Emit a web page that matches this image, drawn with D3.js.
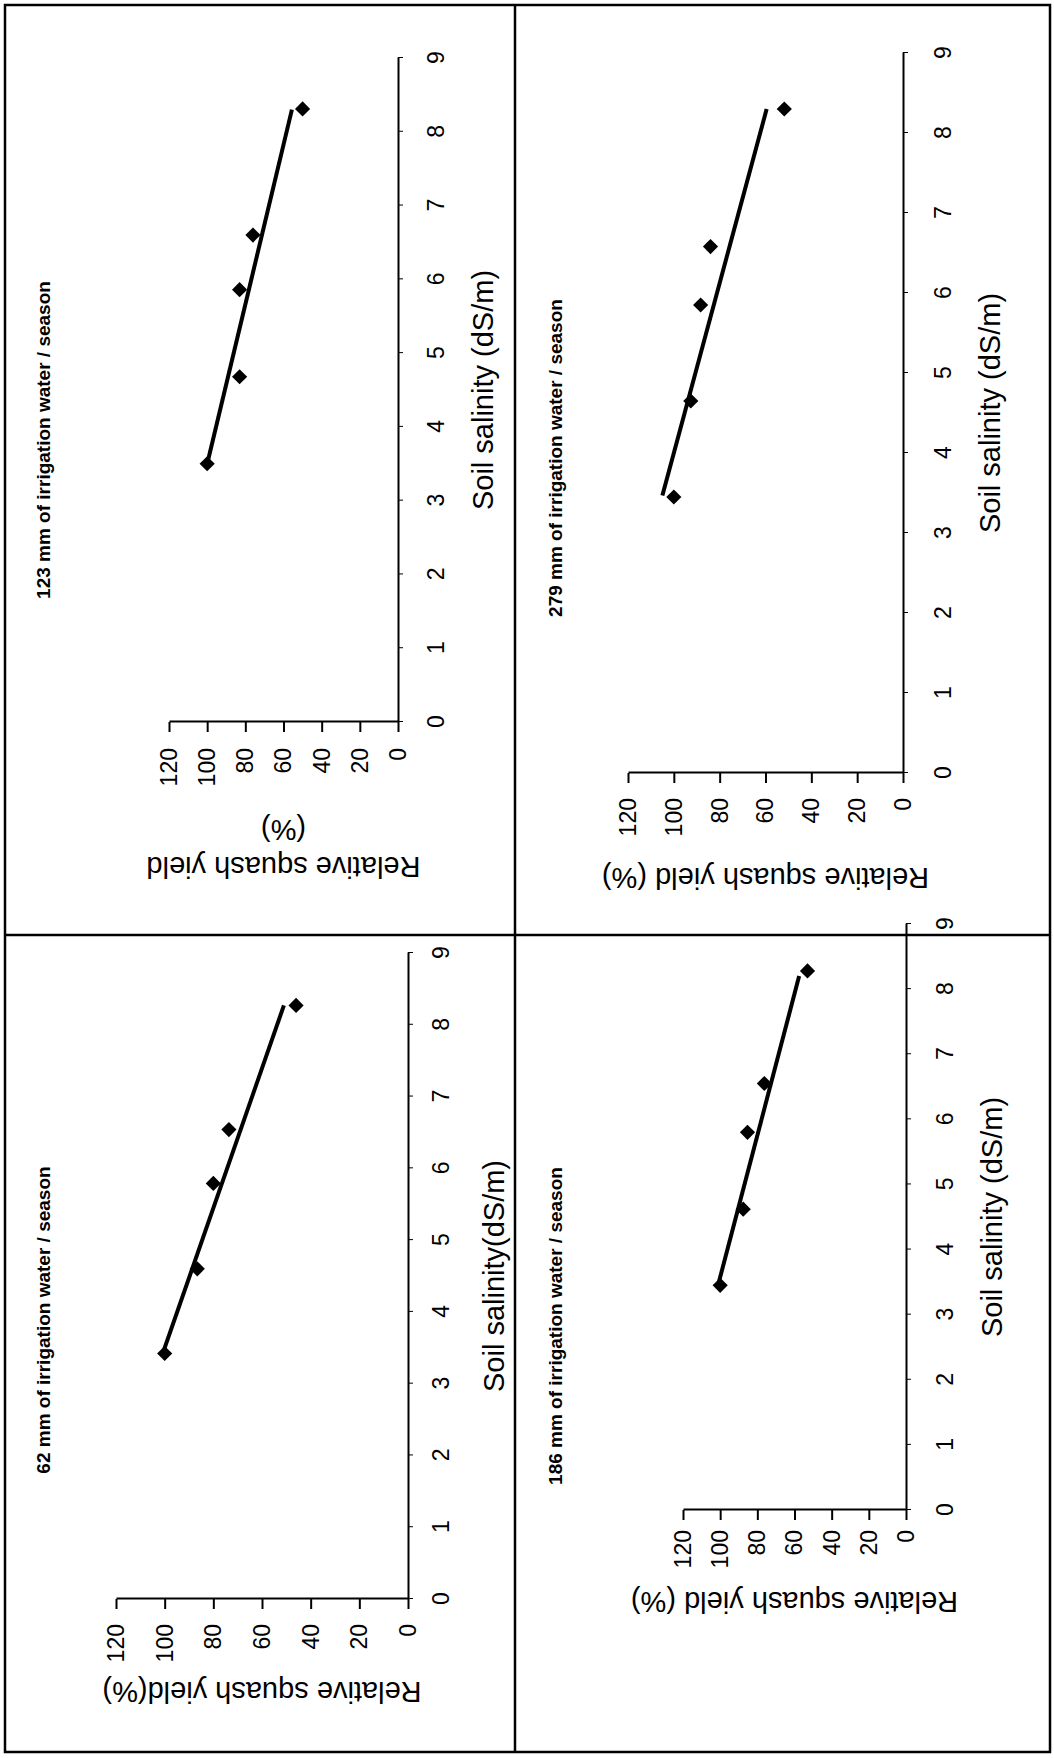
<!DOCTYPE html>
<html lang="en">
<head>
<meta charset="UTF-8">
<title>Relative squash yield vs soil salinity</title>
<script src="https://d3js.org/d3.v7.min.js"></script>
<style>
  body { margin:0; background:#fff; }
  text { font-family: "Liberation Sans", Arial, sans-serif; fill:#000; }
  .tick text { font-size:23px; }
  .axis path { stroke:#000; stroke-width:2px; }
  .xaxis .tick line { stroke:#000; stroke-width:1px; }
  .yaxis .tick line { stroke:#000; stroke-width:2px; }
  .axis-title { font-size:29px; }
  .panel-title { font-size:19px; font-weight:bold; }
  .trend { fill:none; stroke:#000; stroke-width:4px; }
  .frame { fill:none; stroke:#000; stroke-width:2.5px; }
</style>
</head>
<body>
<script>
// tick labels
var xTicks = [0, 1, 2, 3, 4, 5, 6, 7, 8, 9];
var yTicks = [0, 20, 40, 60, 80, 100, 120];

var titles = ["62 mm of irrigation water / season",
              "123 mm of irrigation water / season",
              "186 mm of irrigation water / season",
              "279 mm of irrigation water / season"];

// soil salinity (dS/m) and relative yield (%)
var salinity62 = [3.42, 4.6, 5.79, 6.54, 8.27];
var yield62    = [100, 86.6, 80, 73.6, 46];
var trendX62   = [3.45, 8.27];
var trendY62   = [100.5, 51];

var salinity123 = [3.5, 4.68, 5.86, 6.6, 8.31];
var yield123    = [100, 83, 83, 76, 50];
var trendX123   = [3.55, 8.3];
var trendY123   = [99.5, 55.6];

var salinity186 = [3.45, 4.62, 5.8, 6.55, 8.28];
var yield186    = [100, 87.6, 85.3, 76.2, 53];
var trendX186   = [3.5, 8.2];
var trendY186   = [100.7, 57.5];

var salinity279 = [3.45, 4.65, 5.85, 6.58, 8.3];
var yield279    = [100, 92.6, 88.3, 84, 51.8];
var trendX279   = [3.47, 8.3];
var trendY279   = [105, 59.5];

// the figure is drawn upright (1758 wide, 1054 tall) and then turned a quarter turn
var pageW = 1054, pageH = 1758;

var svg = d3.select("body").append("svg").attr("width", pageW).attr("height", pageH);
var g = svg.append("g").attr("transform", "translate(0," + pageH + ") rotate(-90)");

var panels = [
  {title: titles[0], sal: salinity62, yld: yield62, tx: trendX62, ty: trendY62,
   x0: 159, x9: 805, axisY: 408, y120: 116, xPad: 20, yPad: 15,
   xLabel: "Soil salinity(dS/m)", xLabelY: 504,
   yLabel: ["Relative squash yield(%)"], yLabelX: 76, titleX: 438, titleY: 50},
  {title: titles[1], sal: salinity123, yld: yield123, tx: trendX123, ty: trendY123,
   x0: 1036, x9: 1700, axisY: 398, y120: 169, xPad: 25, yPad: 16,
   xLabel: "Soil salinity (dS/m)", xLabelY: 493,
   yLabel: ["Relative squash yield", "(%)"], yLabelX: 901, titleX: 1318, titleY: 50},
  {title: titles[2], sal: salinity186, yld: yield186, tx: trendX186, ty: trendY186,
   x0: 248, x9: 834, axisY: 906, y120: 683, xPad: 26, yPad: 10,
   xLabel: "Soil salinity (dS/m)", xLabelY: 1002,
   yLabel: ["Relative squash yield (%)"], yLabelX: 166, titleX: 432, titleY: 562},
  {title: titles[3], sal: salinity279, yld: yield279, tx: trendX279, ty: trendY279,
   x0: 985, x9: 1705, axisY: 903, y120: 628, xPad: 27, yPad: 15,
   xLabel: "Soil salinity (dS/m)", xLabelY: 1000,
   yLabel: ["Relative squash yield (%)"], yLabelX: 890, titleX: 1300, titleY: 562}
];

// frame and dividers
g.append("rect").attr("class", "frame").attr("x", 6).attr("y", 5).attr("width", 1747).attr("height", 1045);
g.append("line").attr("class", "frame").attr("x1", 6).attr("x2", 1753).attr("y1", 515).attr("y2", 515);
g.append("line").attr("class", "frame").attr("x1", 823).attr("x2", 823).attr("y1", 5).attr("y2", 1050);

var diamond = d3.symbol().type(d3.symbolSquare).size(115);

panels.forEach(function(p) {
  var x = d3.scaleLinear().domain([0, 9]).range([p.x0, p.x9]);
  var y = d3.scaleLinear().domain([0, 120]).range([p.axisY, p.y120]);
  var pg = g.append("g");

  pg.append("g").attr("class", "axis xaxis")
    .attr("transform", "translate(0," + p.axisY + ")")
    .call(d3.axisBottom(x).tickValues(xTicks).tickSize(5).tickSizeOuter(0).tickPadding(p.xPad));

  pg.append("g").attr("class", "axis yaxis")
    .attr("transform", "translate(" + p.x0 + ",0)")
    .call(d3.axisLeft(y).tickValues(yTicks).tickSize(10).tickSizeOuter(0).tickPadding(p.yPad));

  pg.selectAll(".tick text").attr("font-family", null).attr("font-size", null);

  var pts = p.sal.map(function(s, i) { return [s, p.yld[i]]; });
  var trend = p.tx.map(function(s, i) { return [s, p.ty[i]]; });

  pg.append("path").attr("class", "trend")
    .attr("d", d3.line().x(function(d) { return x(d[0]); }).y(function(d) { return y(d[1]); })(trend));

  pg.selectAll(".pt").data(pts).enter().append("path")
    .attr("class", "pt")
    .attr("d", diamond)
    .attr("transform", function(d) { return "translate(" + x(d[0]) + "," + y(d[1]) + ") rotate(45)"; })
    .attr("fill", "#000");

  pg.append("text").attr("class", "panel-title")
    .attr("x", p.titleX).attr("y", p.titleY)
    .attr("text-anchor", "middle").text(p.title);

  pg.append("text").attr("class", "axis-title")
    .attr("x", (p.x0 + p.x9) / 2).attr("y", p.xLabelY)
    .attr("text-anchor", "middle").text(p.xLabel);

  var yl = pg.append("text").attr("class", "axis-title")
    .attr("transform", "translate(" + p.yLabelX + "," + (p.axisY + p.y120) / 2 + ") rotate(-90)")
    .attr("text-anchor", "middle");
  p.yLabel.forEach(function(s, i) {
    yl.append("tspan").attr("x", 0).attr("dy", i === 0 ? 0 : 37).text(s);
  });
});
</script>
</body>
</html>
